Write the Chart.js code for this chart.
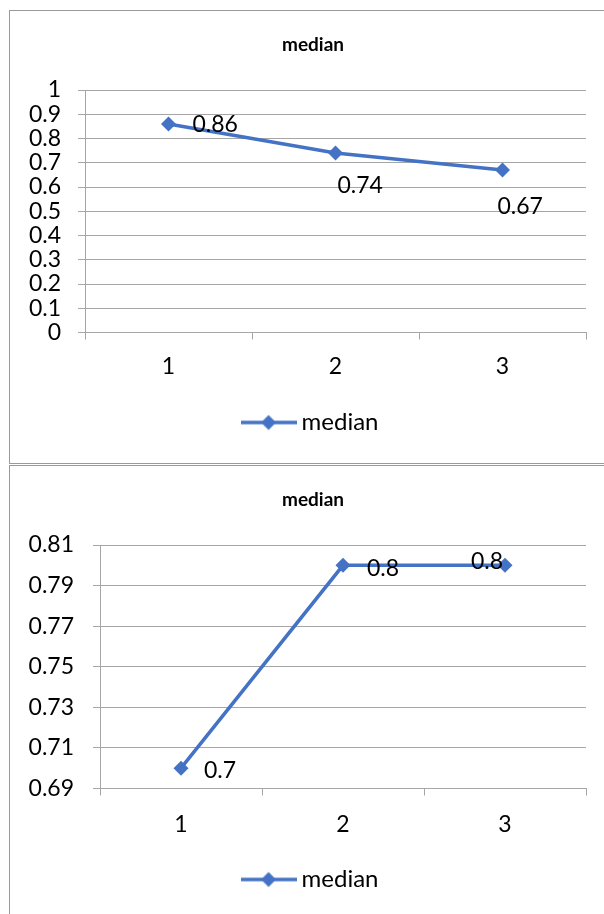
<!DOCTYPE html>
<html>
<head>
<meta charset="utf-8">
<script src="https://cdn.jsdelivr.net/npm/chart.js@4.4.1/dist/chart.umd.min.js"></script>
<style>
  html, body { margin: 0; padding: 0; background: #fff; width: 604px; height: 914px; overflow: hidden; }
  .frame { position: absolute; left: 9px; width: 620px; border: 1px solid #9a9a9a; border-right: none; background: #fff; }
  #frame1 { top: 10px; height: 452px; }
  #frame2 { top: 465px; height: 460px; border-bottom: none; }
  canvas { display: block; }
</style>
</head>
<body>
<div class="frame" id="frame1"><canvas id="chart1" width="606" height="452"></canvas></div>
<div class="frame" id="frame2"><canvas id="chart2" width="606" height="448"></canvas></div>
<script>
/* Data */
const seriesName = "median";
const categories = ["1", "2", "3"];
const medianTop = [0.86, 0.74, 0.67];
const medianBottom = [0.7, 0.8, 0.8];

const topAxis = { min: 0, max: 1, step: 0.1 };
const bottomAxis = { min: 0.69, max: 0.81, step: 0.02 };

/* Style */
const blue = "#4472C4";
const gridGrey = "#a6a6a6";
Chart.defaults.font.family = "Lato, 'Open Sans', sans-serif";
Chart.defaults.color = "#000";

/* Legend icon: line with a diamond */
const legendIcon = document.createElement("canvas");
legendIcon.width = 56;
legendIcon.height = 18;
(function () {
  const c = legendIcon.getContext("2d");
  c.strokeStyle = blue;
  c.lineWidth = 3.5;
  c.beginPath();
  c.moveTo(0, 9);
  c.lineTo(56, 9);
  c.stroke();
  c.fillStyle = blue;
  c.beginPath();
  c.moveTo(28, 1.5);
  c.lineTo(35.5, 9);
  c.lineTo(28, 16.5);
  c.lineTo(20.5, 9);
  c.closePath();
  c.fill();
})();

/* Value labels next to the points */
const dataLabels = {
  id: "dataLabels",
  afterDatasetsDraw(chart, args, opts) {
    const ctx = chart.ctx;
    const meta = chart.getDatasetMeta(0);
    const values = chart.data.datasets[0].data;
    ctx.save();
    ctx.font = "23px Lato";
    ctx.fillStyle = "#000";
    ctx.textAlign = "left";
    ctx.textBaseline = "middle";
    meta.data.forEach((pt, i) => {
      const off = opts.offsets[i] || [0, 0];
      ctx.fillText(String(values[i]), pt.x + off[0], pt.y + off[1]);
    });
    ctx.restore();
  }
};

function buildChart(id, values, axis, cfg) {
  return new Chart(document.getElementById(id), {
    type: "line",
    data: {
      labels: categories,
      datasets: [
        {
          label: seriesName,
          data: values,
          borderColor: blue,
          backgroundColor: blue,
          borderWidth: 3.5,
          tension: 0,
          pointStyle: "rectRot",
          pointRadius: 7.5,
          pointBorderWidth: 0,
          pointBackgroundColor: blue
        }
      ]
    },
    options: {
      responsive: false,
      animation: false,
      devicePixelRatio: 1,
      layout: { padding: { top: 0, left: 0, right: 0, bottom: cfg.padBottom } },
      plugins: {
        tooltip: { enabled: false },
        title: {
          display: true,
          text: seriesName,
          color: "#000",
          font: { size: 19, weight: "bold" },
          padding: { top: 22.6, bottom: 33.6 }
        },
        legend: {
          position: "bottom",
          labels: {
            usePointStyle: true,
            pointStyleWidth: 42,
            padding: 10,
            color: "#000",
            font: { size: 24 },
            generateLabels: (chart) =>
              Chart.defaults.plugins.legend.labels
                .generateLabels(chart)
                .map((l) => ({ ...l, pointStyle: legendIcon }))
          }
        },
        dataLabels: { offsets: cfg.offsets }
      },
      scales: {
        x: {
          offset: true,
          grid: { offset: true, drawOnChartArea: false, drawTicks: true, tickLength: 7, color: gridGrey },
          border: { color: gridGrey },
          ticks: { font: { size: 23 }, padding: cfg.xPad, color: "#000" },
          afterFit: (s) => { s.height = cfg.xHeight; }
        },
        y: {
          min: axis.min,
          max: axis.max,
          grid: { color: gridGrey, tickLength: 7 },
          border: { color: gridGrey },
          ticks: {
            stepSize: axis.step,
            autoSkip: false,
            font: { size: 23, lineHeight: 1 },
            padding: cfg.yPad,
            color: "#000",
            callback: (v) => String(+v.toFixed(2))
          },
          afterFit: (s) => { s.width = cfg.yWidth; }
        },
        spacer: {
          position: "right",
          display: true,
          grid: { display: false },
          border: { display: false },
          ticks: { display: false },
          afterFit: (s) => { s.width = 30; }
        }
      }
    },
    plugins: [dataLabels]
  });
}

buildChart("chart1", medianTop, topAxis, {
  yWidth: 75, yPad: 17, xPad: 13, xHeight: 68, padBottom: 18.5,
  offsets: [[24, 1], [2, 33], [-5, 36.5]]
});

buildChart("chart2", medianBottom, bottomAxis, {
  yWidth: 90, yPad: 19, xPad: 15, xHeight: 69, padBottom: 12.5,
  offsets: [[23, 2], [24, 3], [-34, -4]]
});
</script>
</body>
</html>
